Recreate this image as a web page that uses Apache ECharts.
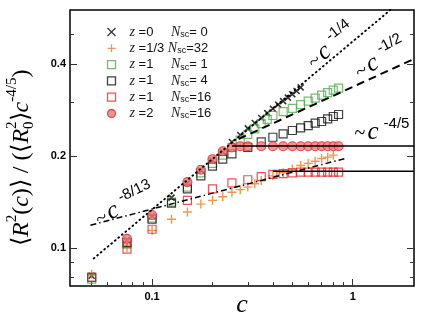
<!DOCTYPE html>
<html>
<head>
<meta charset="utf-8">
<script src="https://cdn.jsdelivr.net/npm/echarts@6/dist/echarts.min.js"></script>
<style>
html, body { margin: 0; padding: 0; background: #fff; }
#chart { width: 430px; height: 323px; }
</style>
</head>
<body>
<div id="chart"></div>
<script>
// axis ranges and ticks (real values, drawn on log10 scale)
const xRange = [0.039, 2.02]
const yRange = [0.075, 0.6]
const xMajor = [0.1, 1]
const xMinor = [0.05, 0.06, 0.07, 0.08, 0.09, 0.2, 0.3, 0.4, 0.5, 0.6, 0.7, 0.8, 0.9]
const yMajor = [0.1, 0.2, 0.4]
const yMinor = [0.08, 0.09, 0.3, 0.5]

// z=0, Nsc=0
const cZ0 = [0.05, 0.075, 0.1, 0.125, 0.15, 0.175, 0.2, 0.225, 0.25, 0.275, 0.3, 0.325, 0.35, 0.375, 0.4, 0.425, 0.45, 0.475, 0.5, 0.525, 0.55]
const rZ0 = [0.081, 0.106, 0.127, 0.146, 0.163, 0.179, 0.193, 0.206, 0.222, 0.234, 0.246, 0.256, 0.266, 0.276, 0.285, 0.294, 0.302, 0.310, 0.318, 0.326, 0.335]
// z=1/3, Nsc=32
const cZ13 = [0.05, 0.075, 0.1, 0.125, 0.15, 0.175, 0.2, 0.225, 0.25, 0.275, 0.3, 0.325, 0.35, 0.4, 0.45, 0.5, 0.55, 0.6, 0.65, 0.7, 0.75, 0.8]
const rZ13 = [0.082, 0.100, 0.114, 0.124, 0.131, 0.139, 0.143, 0.147, 0.152, 0.155, 0.158, 0.162, 0.166, 0.172, 0.176, 0.181, 0.186, 0.189, 0.192, 0.196, 0.198, 0.201]
// z=1, Nsc=1
const cN1 = [0.05, 0.075, 0.1, 0.125, 0.15, 0.175, 0.2, 0.225, 0.25, 0.275, 0.3, 0.325, 0.35, 0.375, 0.4, 0.45, 0.5, 0.55, 0.6, 0.65, 0.7, 0.75, 0.8, 0.85]
const rN1 = [0.079, 0.103, 0.125, 0.141, 0.158, 0.176, 0.189, 0.201, 0.213, 0.225, 0.235, 0.245, 0.255, 0.263, 0.271, 0.279, 0.286, 0.294, 0.302, 0.309, 0.316, 0.322, 0.328, 0.333]
// z=1, Nsc=4
const cN4 = [0.05, 0.075, 0.1, 0.125, 0.15, 0.175, 0.2, 0.225, 0.25, 0.3, 0.35, 0.4, 0.45, 0.5, 0.55, 0.6, 0.65, 0.7, 0.75, 0.8, 0.85]
const rN4 = [0.080, 0.104, 0.124, 0.140, 0.156, 0.172, 0.185, 0.195, 0.203, 0.213, 0.222, 0.230, 0.236, 0.242, 0.247, 0.251, 0.256, 0.259, 0.264, 0.269, 0.273]
// z=1, Nsc=16
const cN16 = [0.05, 0.075, 0.1, 0.15, 0.2, 0.25, 0.3, 0.35, 0.4, 0.45, 0.5, 0.55, 0.6, 0.65, 0.7, 0.75, 0.8, 0.85]
const rN16 = [0.080, 0.099, 0.115, 0.143, 0.156, 0.163, 0.167, 0.171, 0.174, 0.175, 0.176, 0.177, 0.177, 0.177, 0.177, 0.177, 0.177, 0.177]
// z=2, Nsc=16
const cZ2 = [0.075, 0.1, 0.15, 0.175, 0.2, 0.225, 0.25, 0.275, 0.3, 0.35, 0.4, 0.45, 0.5, 0.55, 0.6, 0.65, 0.7, 0.75, 0.8, 0.85]
const rZ2 = [0.107, 0.128, 0.164, 0.180, 0.195, 0.207, 0.213, 0.215, 0.215, 0.215, 0.215, 0.215, 0.215, 0.215, 0.215, 0.215, 0.215, 0.215, 0.215, 0.215]

// legend text parts
const legZ = ['0', '1/3', '1', '1', '1', '2']
const legN = [' 0', '32', ' 1', ' 4', '16', '16']

// guide lines, [c, value] end points
const guideQuarter = [[0.0512, 0.0923], [1.54, 0.6]]
const guideHalf = [[0.27, 0.227], [2.02, 0.415]]
const guideEight = [[0.0493, 0.1186], [0.915, 0.196]]
const plateauHigh = [[0.25, 0.2154], [2.02, 0.2154]]
const plateauLow = [[0.4, 0.178], [2.02, 0.178]]

const lg = Math.log10
const pts = (xs, ys) => xs.map((x, i) => [lg(x), lg(ys[i])])

const names = legZ.map((z, i) => 'z=' + z + ' N=' + legN[i])

const crossPath = 'path://M0,0L10,10M10,0L0,10'
const plusPath = 'path://M5,0L5,10M0,5L10,5'

const fmt = v => String(Number(Math.pow(10, v).toPrecision(2)))
const labelStyle = { color: '#000', fontSize: 11, fontWeight: 'bold', fontFamily: 'Liberation Sans' }

const xAxisOf = (vals, len, labels) => ({
    type: 'value', position: 'bottom', min: lg(xRange[0]), max: lg(xRange[1]),
    axisLine: { show: false, onZero: false },
    splitLine: { show: false },
    axisTick: { show: true, inside: true, length: len, lineStyle: { color: '#333', width: 1 }, customValues: vals.map(lg) },
    axisLabel: labels ? Object.assign({ customValues: labels.map(lg), formatter: fmt, margin: 5 }, labelStyle) : { show: false }
})
const yAxisOf = (pos, vals, len, labels) => ({
    type: 'value', position: pos, min: lg(yRange[0]), max: lg(yRange[1]),
    axisLine: { show: false, onZero: false },
    splitLine: { show: false },
    axisTick: { show: true, inside: true, length: len, lineStyle: { color: '#333', width: 1 }, customValues: vals.map(lg) },
    axisLabel: labels ? Object.assign({ customValues: labels.map(lg), formatter: fmt, margin: 4 }, labelStyle) : { show: false }
})

const scatter = (i, xs, ys, symbol, size, style) => ({
    name: names[i], type: 'scatter', data: pts(xs, ys), symbol: symbol, symbolSize: size,
    itemStyle: style, z: 2 + i * 0.01
})
const guide = (data, type, width, cap) => ({
    type: 'line', data: data.map(p => [lg(p[0]), lg(p[1])]), symbol: 'none', silent: true, z: 5,
    lineStyle: { color: '#000', width: width, type: type, cap: cap || 'butt' }
})

// power-law note: "~c" with superscript, rotated
const note = (x, y, deg, sup, supX, supY) => ({
    type: 'group', x: x, y: y, rotation: deg * Math.PI / 180,
    children: [
        { type: 'text', x: 0, y: 2, style: { text: '~', font: '20px "Liberation Serif"', fill: '#000', textAlign: 'left', textVerticalAlign: 'middle' } },
        { type: 'text', x: 13, y: 0, style: { text: 'c', font: 'italic 25px "Liberation Serif"', fill: '#000', textAlign: 'left', textVerticalAlign: 'middle' } },
        { type: 'text', x: supX, y: supY, style: { text: sup, font: '15px "Liberation Sans"', fill: '#000', textAlign: 'left', textVerticalAlign: 'middle' } }
    ]
})

// y axis title built piece by piece, measured with canvas
const ctx = document.createElement('canvas').getContext('2d')
const titleParts = [
    ['\u27E8', 0, 24, ''], ['R', 0, 24, 'italic'], ['2', -10, 15, ''], ['(', 0, 24, ''], ['c', 0, 24, 'italic'], [')', 0, 24, ''], ['\u27E9', 0, 24, ''],
    [' / ', 0, 24, ''], ['(', 0, 24, ''], ['\u27E8', 0, 24, ''], ['R', 0, 24, 'italic'], ['0', 7, 15, 'stack'], ['2', -10, 15, ''], ['\u27E9', 0, 24, ''],
    ['c', 0, 24, 'italic'], ['-4/5', -10, 15, ''], [')', 0, 24, '']
]
const titleEls = []
let pos = 0
titleParts.forEach(p => {
    const style = p[3] === 'italic' ? 'italic ' : ''
    const font = style + p[2] + 'px "Liberation Serif"'
    ctx.font = font
    titleEls.push({ type: 'text', x: pos, y: p[1], style: { text: p[0], font: font, fill: '#000', textAlign: 'left', textVerticalAlign: 'middle' } })
    if (p[3] !== 'stack') pos += ctx.measureText(p[0]).width
})

const chart = echarts.init(document.getElementById('chart'))
chart.setOption({
    animation: false,
    backgroundColor: '#fff',
    grid: { left: 70, top: 10, right: 16, bottom: 37, show: true, borderColor: '#000', borderWidth: 1.5, backgroundColor: 'transparent' },
    xAxis: [xAxisOf(xMajor, 7, xMajor), xAxisOf(xMinor, 4)],
    yAxis: [yAxisOf('left', yMajor, 7, yMajor), yAxisOf('left', yMinor, 4), yAxisOf('right', yMajor, 7), yAxisOf('right', yMinor, 4)],
    legend: {
        data: names, orient: 'vertical', left: 100, top: 20, itemWidth: 8, itemHeight: 8, itemGap: 2.3,
        selectedMode: false,
        itemStyle: { borderWidth: 1.3 },
        formatter: name => {
            const i = names.indexOf(name)
            const v = legZ[i] === '1/3' ? '{w| =1/3 }' : '{v| =' + legZ[i] + '}'
            return '{i|z}' + v + '{i|N}{s|sc}{t|=' + legN[i] + '}'
        },
        textStyle: {
            padding: [0, 0, 0, 9], color: '#111',
            rich: {
                i: { fontFamily: 'Liberation Serif', fontStyle: 'italic', fontSize: 14, color: '#222' },
                v: { fontFamily: 'Liberation Sans', fontSize: 13, width: 36, color: '#111' },
                w: { fontFamily: 'Liberation Sans', fontSize: 13, color: '#111' },
                t: { fontFamily: 'Liberation Sans', fontSize: 13, color: '#111' },
                s: { fontFamily: 'Liberation Sans', fontSize: 9, verticalAlign: 'bottom', lineHeight: 10, color: '#111' }
            }
        }
    },
    series: [
        scatter(0, cZ0, rZ0, crossPath, 6, { color: 'none', borderColor: '#000', borderWidth: 1.6 }),
        scatter(1, cZ13, rZ13, plusPath, 9, { color: 'none', borderColor: '#f07c1f', borderWidth: 1.4 }),
        scatter(2, cN1, rN1, 'rect', 8, { color: 'none', borderColor: '#4caf4a', borderWidth: 1.2 }),
        scatter(3, cN4, rN4, 'rect', 8, { color: 'none', borderColor: '#111', borderWidth: 1.2 }),
        scatter(4, cN16, rN16, 'rect', 8, { color: 'none', borderColor: '#e8252b', borderWidth: 1.2 }),
        scatter(5, cZ2, rZ2, 'circle', 9, { color: '#f4797a', borderColor: '#e4262c', borderWidth: 1.1 }),
        guide(guideQuarter, [0.8, 3.8], 1.9, 'round'),
        guide(guideHalf, [8, 5], 2),
        guide(guideEight, [6, 3, 1.5, 3], 1.5),
        guide(plateauHigh, 'solid', 1.6),
        guide(plateauLow, 'solid', 1.6)
    ],
    graphic: [
        note(309.5, 63.5, 38, '-1/4', 30, -9),
        note(356, 72.5, 28, '-1/2', 30, -10),
        note(354.6, 132, 0, '-4/5', 29, -8),
        note(96, 219.6, 26, '-8/13', 30, -9),
        { type: 'text', x: 242, y: 305, style: { text: 'c', font: 'italic 26px "Liberation Serif"', fill: '#000', textAlign: 'center', textVerticalAlign: 'middle' } },
        { type: 'group', x: 22, y: 246, rotation: Math.PI / 2, children: titleEls }
    ]
})
</script>
</body>
</html>
